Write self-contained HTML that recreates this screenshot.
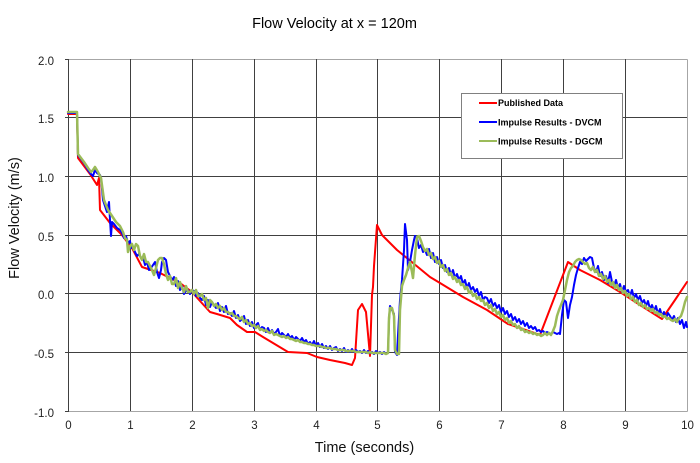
<!DOCTYPE html>
<html><head><meta charset="utf-8"><style>
html,body{margin:0;padding:0;background:#fff;}
svg{display:block;font-family:"Liberation Sans",Arial,sans-serif;}
</style></head><body>
<svg width="700" height="463" viewBox="0 0 700 463" xmlns="http://www.w3.org/2000/svg">
<rect width="700" height="463" fill="#fff"/>
<text x="334.5" y="28" font-size="14.5" text-anchor="middle" fill="#000">Flow Velocity at x = 120m</text>
<g stroke="#a6a6a6" stroke-width="1" fill="none">
<line x1="68" y1="59.5" x2="687.5" y2="59.5"/>
<line x1="68" y1="411.5" x2="687.5" y2="411.5"/>
<line x1="687.5" y1="59.5" x2="687.5" y2="411.5"/>
</g>
<g stroke="#404040" stroke-width="1" fill="none">
<line x1="68.5" y1="59" x2="68.5" y2="412"/>
<line x1="130.5" y1="59" x2="130.5" y2="411"/>
<line x1="192.5" y1="59" x2="192.5" y2="411"/>
<line x1="254.5" y1="59" x2="254.5" y2="411"/>
<line x1="316.5" y1="59" x2="316.5" y2="411"/>
<line x1="377.5" y1="59" x2="377.5" y2="411"/>
<line x1="439.5" y1="59" x2="439.5" y2="411"/>
<line x1="501.5" y1="59" x2="501.5" y2="411"/>
<line x1="563.5" y1="59" x2="563.5" y2="411"/>
<line x1="625.5" y1="59" x2="625.5" y2="411"/>
<line x1="65" y1="117.5" x2="687" y2="117.5"/>
<line x1="65" y1="176.5" x2="687" y2="176.5"/>
<line x1="65" y1="235.5" x2="687" y2="235.5"/>
<line x1="65" y1="293.5" x2="687" y2="293.5"/>
<line x1="65" y1="352.5" x2="687" y2="352.5"/>
<line x1="65" y1="59.5" x2="68" y2="59.5"/>
<line x1="65" y1="411.5" x2="68" y2="411.5"/>
</g>
<g font-size="11.5" fill="#222" text-anchor="end">
<text x="54" y="65">2.0</text>
<text x="54" y="123">1.5</text>
<text x="54" y="182">1.0</text>
<text x="54" y="241">0.5</text>
<text x="54" y="299">0.0</text>
<text x="54" y="358">-0.5</text>
<text x="54" y="417">-1.0</text>
</g>
<g font-size="11.5" fill="#222" text-anchor="middle">
<text x="68.5" y="429">0</text>
<text x="130.5" y="429">1</text>
<text x="192.5" y="429">2</text>
<text x="254.5" y="429">3</text>
<text x="316.5" y="429">4</text>
<text x="377.5" y="429">5</text>
<text x="439.5" y="429">6</text>
<text x="501.5" y="429">7</text>
<text x="563.5" y="429">8</text>
<text x="625.5" y="429">9</text>
<text x="687.5" y="429">10</text>
</g>
<text x="364.5" y="452" font-size="14.5" text-anchor="middle" fill="#111">Time (seconds)</text>
<text transform="translate(19,218) rotate(-90)" font-size="14.5" text-anchor="middle" fill="#111">Flow Velocity (m/s)</text>

<g fill="none" stroke-linejoin="round" stroke-linecap="round">
<polyline stroke="#ff0000" stroke-width="2" points="68,114 77,114 78,158 90,174 97,185 99,178 100,210 110,223 122,235 128,243 132,248 142,267 160,273 180,283 192,292 200,301 210,312 217,314 230,318 237,325 247,332 255,332 263,337 273,343 288,352 307,353 317,357 330,360 345,363 352,365 355,358 358,310 362,304 366,312 370,356 372,295 373,287 374,266 377,225 382,235 397,250 413,263 430,277 440,283 463,297 487,310 508,324 520,328 540,335 568,262 580,270 600,280 620,292 640,305 662,319 675,300 687,282"/>
<polyline stroke="#0000ff" stroke-width="2" points="68,113 77,113 78,155 84,163 88,170 91,174 93,176 95,170 97,173 100,175 101,178 103,200 105,206 107,212 109,202 110,220 111,236 112,222 114,224 117,228 120,230 122,233 124,238 126,236 128,243 130,241 131,248 133,247 135,252 137,256 139,254 141,258 143,257 145,265 147,262 149,270 151,268 153,265 155,262 157,272 159,278 161,270 162,262 164,258 166,260 168,272 170,276 172,280 174,277 176,286 178,281 180,290 182,286 184,294 186,291 188,290 190,294 192,290 194,291 196,296 198,293 200,298 202,300 204,296 206,305 208,300 210,307 212,302 214,305 216,308 218,303 220,311 222,307 224,312 226,306 228,314 230,313 232,316 234,311 236,318 238,315 240,321 242,319 244,316 246,324 248,320 250,326 252,322 254,328 256,325 258,323 260,330 262,327 264,328 266,332 268,328 270,333 272,330 274,334 276,332 278,329 280,336 282,333 284,335 286,337 288,334 290,338 292,336 294,340 296,337 298,339 300,341 302,338 304,342 306,340 308,344 310,342 312,345 314,341 316,346 318,343 320,347 322,344 324,348 326,346 328,349 330,346 332,350 334,348 336,347 338,351 340,349 342,351 344,348 346,352 348,350 350,352 352,349 354,352 356,350 358,352 360,351 362,353 364,350 366,353 368,351 370,353 372,352 374,354 376,351 378,353 380,352 382,354 384,352 386,354 388,353 389,320 390,306 392,310 394,314 395,352 397,355 398,335 400,300 402,280 404,250 405,224 407,240 408,270 410,262 412,250 414,240 415,236 417,238 419,248 421,245 423,252 425,250 427,255 429,249 431,258 433,253 435,262 437,257 439,264 441,260 443,268 445,265 447,272 449,268 451,275 453,270 455,278 457,274 459,280 461,276 463,284 465,280 467,288 469,283 471,290 473,287 475,292 477,289 479,296 481,292 483,300 485,297 487,298 489,303 491,299 493,306 495,303 497,308 499,305 501,312 503,308 505,314 507,311 509,317 511,314 513,320 515,317 517,322 519,319 521,324 523,321 525,326 527,323 529,328 531,326 533,329 535,327 537,331 539,330 541,332 543,331 545,333 547,332 549,333 551,334 553,332 555,333 557,334 559,333 560,334 562,315 564,300 566,302 568,318 570,305 572,297 574,285 576,275 578,268 580,262 582,264 584,258 586,261 588,259 590,257 592,258 594,268 596,272 598,266 600,276 602,272 604,280 606,276 608,283 610,272 612,282 614,286 616,280 618,288 620,284 622,292 624,286 626,292 628,290 630,296 632,290 634,298 636,294 638,300 640,296 642,303 644,300 646,306 648,301 650,309 652,305 654,311 656,306 658,314 660,309 662,316 664,312 666,318 668,313 670,316 672,320 674,316 676,322 678,318 680,324 682,320 684,328 686,322 687,327"/>
<polyline stroke="#9bbb59" stroke-width="2.5" points="68,112 77,112 78,154 84,162 88,168 91,172 93,170 95,167 98,172 101,178 104,200 108,210 112,216 116,222 120,226 123,232 125,238 127,240 128,252 130,246 132,244 134,250 136,244 138,246 140,256 142,260 144,254 146,262 148,262 150,266 152,270 154,275 156,268 158,260 160,258 162,258 164,264 166,274 168,280 170,276 172,284 174,284 176,278 178,288 180,282 182,288 184,292 186,286 188,292 190,292 192,290 194,294 196,290 198,296 200,296 202,294 204,300 206,298 208,308 210,300 212,302 214,306 216,304 218,308 220,306 222,310 224,308 226,312 228,312 230,314 232,313 234,316 236,316 238,318 240,319 242,317 244,322 246,320 248,324 250,323 252,326 254,325 256,328 258,326 260,330 262,329 264,331 266,330 268,332 270,333 272,331 274,335 276,334 278,335 280,336 282,337 284,336 286,338 288,337 290,339 292,339 294,340 296,341 298,340 300,342 302,342 304,343 306,343 308,344 310,344 312,345 314,345 316,346 318,346 320,346 322,347 324,347 326,348 328,348 330,348 332,349 334,349 336,349 338,350 340,350 342,350 344,350 346,351 348,351 350,351 352,351 354,351 356,352 358,352 360,352 362,352 364,352 366,352 368,353 370,352 372,353 374,353 376,353 378,353 380,353 382,353 384,353 386,354 388,353 389,318 390,308 392,308 394,316 395,350 397,354 399,354 400,310 402,286 404,280 406,275 408,268 410,262 412,272 413,278 415,255 417,237 419,236 421,241 423,247 425,251 427,249 429,255 431,253 433,259 435,257 437,263 439,261 441,267 443,265 445,271 447,269 449,275 451,273 453,279 455,277 457,282 459,280 461,285 463,284 465,289 467,287 469,293 471,291 473,296 475,294 477,299 479,297 481,301 483,300 485,305 487,303 489,308 491,305 493,311 495,309 497,314 499,312 501,317 503,315 505,320 507,318 509,323 511,321 513,325 515,324 517,328 519,326 521,330 523,329 525,332 527,331 529,333 531,332 533,334 535,333 537,335 539,334 541,336 543,335 545,333 547,335 549,333 551,335 553,331 555,326 557,316 559,310 561,305 563,300 565,290 567,280 569,272 571,268 573,266 575,262 577,260 579,259 581,260 583,262 585,264 587,263 589,268 591,270 593,267 595,272 597,270 599,276 601,274 603,279 605,276 607,282 609,280 611,285 613,282 615,288 617,285 619,290 621,288 623,293 625,291 627,296 629,294 631,299 633,297 635,302 637,300 639,305 641,303 643,307 645,305 647,309 649,308 651,311 653,309 655,313 657,312 659,315 661,314 663,317 665,316 667,319 669,318 671,320 673,321 675,319 677,322 679,318 681,316 683,310 685,302 687,297"/>
</g>

<rect x="461.5" y="93.5" width="161" height="65" fill="#fff" stroke="#808080" stroke-width="1"/>
<line x1="479" y1="103" x2="497" y2="103" stroke="#ff0000" stroke-width="2"/>
<line x1="479" y1="122" x2="497" y2="122" stroke="#0000ff" stroke-width="2"/>
<line x1="479" y1="141" x2="497" y2="141" stroke="#9bbb59" stroke-width="2"/>
<g font-size="9" font-weight="bold" fill="#000">
<text x="498" y="106">Published Data</text>
<text x="498" y="125.5">Impulse Results - DVCM</text>
<text x="498" y="144.5">Impulse Results - DGCM</text>
</g>
</svg>
</body></html>
